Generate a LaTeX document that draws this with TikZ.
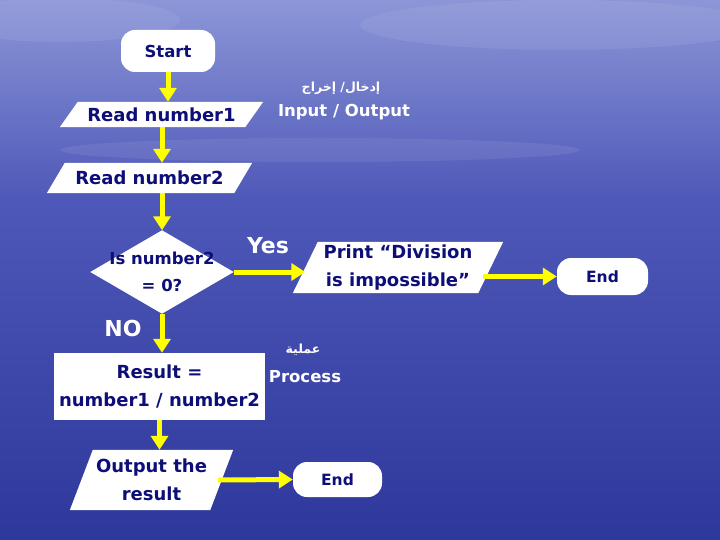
\documentclass[tikz,border=0pt]{standalone}
\usepackage{fontspec}
\setmainfont{DejaVu Sans}
\newfontfamily\arabicfont[Script=Arabic]{DejaVu Sans}
\TeXXeTstate=1
\usetikzlibrary{arrows.meta,calc}
\pgfdeclarelayer{bgsky}
\pgfdeclarelayer{bgshape}
\pgfsetlayers{bgsky,bgshape,main}
\definecolor{navy}{RGB}{14,14,120}
\definecolor{skytop}{RGB}{140,150,215}
\definecolor{skymid}{RGB}{78,88,184}
\definecolor{skybot}{RGB}{46,56,156}
\definecolor{flowyellow}{RGB}{255,255,0}
\begin{document}
\begin{tikzpicture}[x=1pt,y=-1pt,
  box/.style={rectangle, inner sep=0pt, align=center, text=navy,
    font=\bfseries\fontsize{18}{28.5}\selectfont},
  term/.style={box, fill=white, rounded corners=14pt},
  lbl/.style={text=white, inner sep=0pt, align=center,
    font=\bfseries\fontsize{16.5}{18}\selectfont},
  biglbl/.style={lbl, font=\bfseries\fontsize{22}{24}\selectfont},
  arlbl/.style={text=white, inner sep=0pt, font=\arabicfont\bfseries\fontsize{12.5}{15}\selectfont},
  flow/.style={draw=flowyellow, fill=flowyellow, line width=5pt,
    -{Triangle[width=17pt,length=14pt]}},
  cloud/.style={fill=white, opacity=0.07},
]
\useasboundingbox (0,0) rectangle (720,540);
\begin{pgfonlayer}{bgsky}
  \shade[top color=skytop, bottom color=skymid] (0,0) rectangle (720,200.5);
  \shade[top color=skymid, bottom color=skybot] (0,200) rectangle (720,540);
  \fill[cloud] (60,20) ellipse (120 and 22);
  \fill[cloud] (560,25) ellipse (200 and 25);
  \fill[cloud] (320,150) ellipse (260 and 12);
\end{pgfonlayer}

% nodes
\node[term, minimum width=94, minimum height=42, font=\bfseries\fontsize{16.5}{20}\selectfont] (start) at (168,51) {Start};
\node[box, minimum width=203, minimum height=25] (rn1) at (161.5,114.5) {Read number1};
\node[box, minimum width=205, minimum height=30] (rn2) at (149.5,178) {Read number2};
\node[box, minimum width=143, minimum height=83, font=\bfseries\fontsize{16.5}{27}\selectfont] (dec) at (162,272) {Is number2\\= 0?};
\node[box, minimum width=210, minimum height=51] (pr) at (398,267.5) {Print “Division\\is impossible”};
\node[term, minimum width=91, minimum height=37, font=\bfseries\fontsize{15.5}{18}\selectfont] (end1) at (602.5,276.5) {End};
\node[box, fill=white, minimum width=211, minimum height=67] (res) at (159.5,386.5) {Result =\\number1 / number2};
\node[box, minimum width=163, minimum height=60] (out) at (151.5,480) {Output the\\result};
\node[term, minimum width=89, minimum height=35, font=\bfseries\fontsize{15.5}{18}\selectfont] (end2) at (337.5,479.5) {End};

% labels
\node[arlbl] (ario) at (341,88) {\beginR إدخال/ إخراج\endR};
\node[lbl] (io) at (344,112) {Input / Output};
\node[arlbl] (arproc) at (303,350) {\beginR عملية\endR};
\node[lbl] (proc) at (305,377) {Process};
\node[biglbl] (yes) at (268,246) {Yes};
\node[biglbl] (no) at (123,328) {NO};

% shape outlines on background layer
\begin{pgfonlayer}{bgshape}
  \fill[white] ($(rn1.north west)+(18,0)$) -- (rn1.north east) -- ($(rn1.south east)+(-18,0)$) -- (rn1.south west) -- cycle;
  \fill[white] ($(rn2.north west)+(18,0)$) -- (rn2.north east) -- ($(rn2.south east)+(-18,0)$) -- (rn2.south west) -- cycle;
  \fill[white] (dec.north) -- (dec.east) -- (dec.south) -- (dec.west) -- cycle;
  \fill[white] ($(pr.north west)+(25,0)$) -- (pr.north east) -- ($(pr.south east)+(-25,0)$) -- (pr.south west) -- cycle;
  \fill[white] ($(out.north west)+(23,0)$) -- (out.north east) -- ($(out.south east)+(-23,0)$) -- (out.south west) -- cycle;
\end{pgfonlayer}

% connector anchors on slanted edges
\coordinate (prin) at ($(pr.west)+(12.5,0)$);
\coordinate (prout) at ($(pr.east)+(-20,0)$);
\coordinate (outr) at ($(out.east)+(-15,0)$);

% connectors
\draw[flow] (start.south) -- (start.south |- rn1.north);
\draw[flow] (rn1.south -| dec.north) -- (rn2.north -| dec.north);
\draw[flow] (rn2.south -| dec.north) -- (dec.north);
\draw[flow] (dec.east) -- (dec.east -| prin);
\draw[flow] (prout |- end1.west) -- (end1.west);
\draw[flow] (dec.south) -- (dec.south |- res.north);
\draw[flow] (res.south) -- (res.south |- out.north);
\draw[flow] (outr) -- (end2.west);
\end{tikzpicture}
\end{document}
